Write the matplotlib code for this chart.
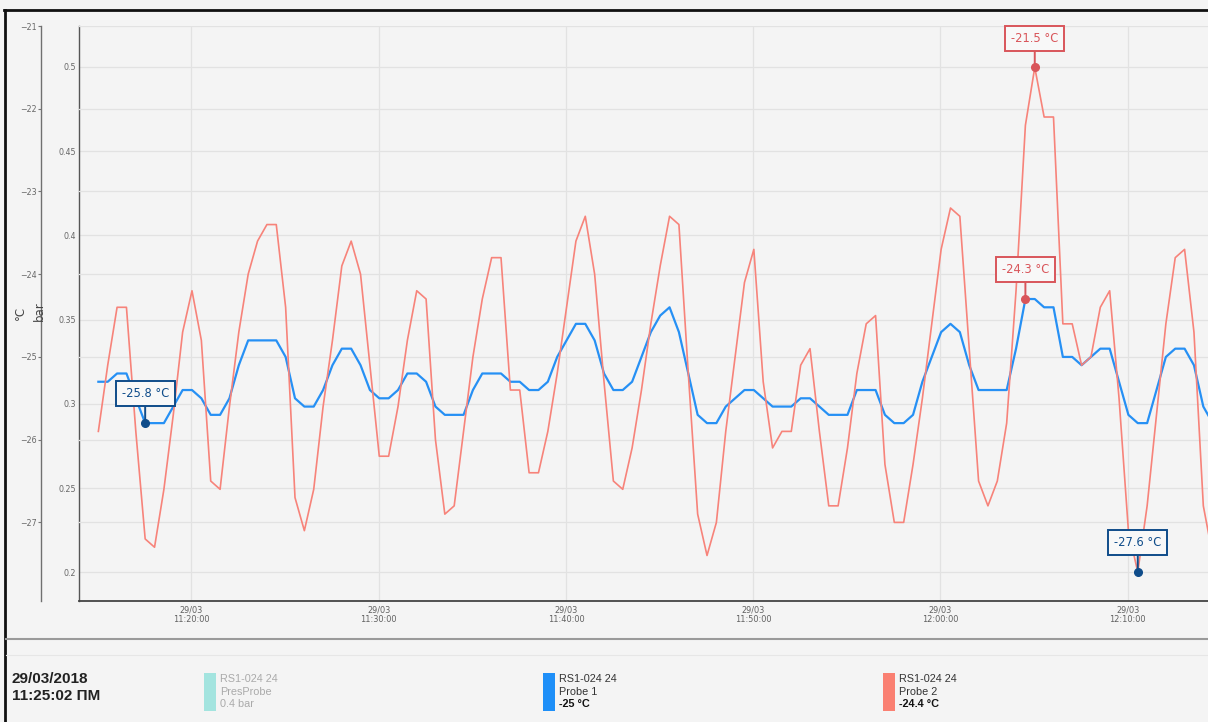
import matplotlib
matplotlib.use("Agg")
import matplotlib.pyplot as plt
import matplotlib.dates as mdates
from matplotlib.lines import Line2D
from matplotlib.patches import Rectangle
import pandas as pd

# ---------------- data ----------------
start_time = "2018-03-29 11:15:02"
sample_step = "30s"

probe1 = [-25.3, -25.3, -25.2, -25.2, -25.5, -25.8, -25.8, -25.8, -25.6, -25.4,
          -25.4, -25.5, -25.7, -25.7, -25.5, -25.1, -24.8, -24.8, -24.8, -24.8,
          -25.0, -25.5, -25.6, -25.6, -25.4, -25.1, -24.9, -24.9, -25.1, -25.4,
          -25.5, -25.5, -25.4, -25.2, -25.2, -25.3, -25.6, -25.7, -25.7, -25.7,
          -25.4, -25.2, -25.2, -25.2, -25.3, -25.3, -25.4, -25.4, -25.3, -25.0,
          -24.8, -24.6, -24.6, -24.8, -25.2, -25.4, -25.4, -25.3, -25.0, -24.7,
          -24.5, -24.4, -24.7, -25.2, -25.7, -25.8, -25.8, -25.6, -25.5, -25.4,
          -25.4, -25.5, -25.6, -25.6, -25.6, -25.5, -25.5, -25.6, -25.7, -25.7,
          -25.7, -25.4, -25.4, -25.4, -25.7, -25.8, -25.8, -25.7, -25.3, -25.0,
          -24.7, -24.6, -24.7, -25.1, -25.4, -25.4, -25.4, -25.4, -24.9, -24.3,
          -24.3, -24.4, -24.4, -25.0, -25.0, -25.1, -25.0, -24.9, -24.9, -25.3,
          -25.7, -25.8, -25.8, -25.4, -25.0, -24.9, -24.9, -25.1, -25.6, -25.8]

probe2 = [-25.9, -25.1, -24.4, -24.4, -25.9, -27.2, -27.3, -26.6, -25.7, -24.7,
          -24.2, -24.8, -26.5, -26.6, -25.6, -24.7, -24.0, -23.6, -23.4, -23.4,
          -24.4, -26.7, -27.1, -26.6, -25.6, -24.8, -23.9, -23.6, -24.0, -25.1,
          -26.2, -26.2, -25.6, -24.8, -24.2, -24.3, -26.0, -26.9, -26.8, -25.9,
          -25.0, -24.3, -23.8, -23.8, -25.4, -25.4, -26.4, -26.4, -25.9, -25.2,
          -24.4, -23.6, -23.3, -24.0, -25.3, -26.5, -26.6, -26.1, -25.4, -24.6,
          -23.9, -23.3, -23.4, -25.2, -26.9, -27.4, -27.0, -25.9, -25.0, -24.1,
          -23.7, -25.3, -26.1, -25.9, -25.9, -25.1, -24.9, -25.9, -26.8, -26.8,
          -26.1, -25.2, -24.6, -24.5, -26.3, -27.0, -27.0, -26.3, -25.5, -24.6,
          -23.7, -23.2, -23.3, -24.9, -26.5, -26.8, -26.5, -25.8, -24.2, -22.2,
          -21.5, -22.1, -22.1, -24.6, -24.6, -25.1, -25.0, -24.4, -24.2, -25.5,
          -27.1, -27.6, -26.8, -25.7, -24.6, -23.8, -23.7, -24.7, -26.8, -27.4]

times = pd.date_range(start_time, periods=len(probe1), freq=sample_step)

temp_ticks = [-27, -26, -25, -24, -23, -22, -21]
temp_range = (-27.95, -21.0)
bar_ticks = [0.2, 0.25, 0.3, 0.35, 0.4, 0.45, 0.5]
bar_tick_labels = ["0.2", "0.25", "0.3", "0.35", "0.4", "0.45", "0.5"]
bar_range = (0.183, 0.5242)
x_ticks = pd.date_range("2018-03-29 11:20:00", "2018-03-29 12:10:00", freq="10min")
x_range = (pd.Timestamp("2018-03-29 11:14:00"), pd.Timestamp("2018-03-29 12:14:17"))

# (series, index, label, kind)
annotations = [("probe1", 5, "-25.8 °C", "min"),
               ("probe1", 99, "-24.3 °C", "max"),
               ("probe2", 100, "-21.5 °C", "max"),
               ("probe2", 111, "-27.6 °C", "min")]

footer_date = "29/03/2018"
footer_time = "11:25:02 ПМ"
legend_devices = ["RS1-024 24", "RS1-024 24", "RS1-024 24"]
legend_probes = ["PresProbe", "Probe 1", "Probe 2"]
legend_values = ["0.4 bar", "-25 °C", "-24.4 °C"]
legend_colors = ["#a3e4df", "#1e8ff8", "#fa8072"]
legend_active = [False, True, True]

# ---------------- style ----------------
W, H, DPI = 1208, 722, 100
BG = "#f4f4f4"
BLUE = "#2690f4"
RED = "#f7837a"
MAX_C = "#d9555a"
MIN_C = "#0f4c8a"
GRID = "#e2e2e2"


def fx(x):
    return x / W


def fy(y):
    return 1 - y / H


fig = plt.figure(figsize=(W / DPI, H / DPI), dpi=DPI, facecolor=BG)

left, right, top, bottom = 79, 1208, 26, 601
ax = fig.add_axes([fx(left), fy(bottom), (right - left) / W, (bottom - top) / H])
ax2 = ax.twinx()

ax.set_zorder(2)
ax2.set_zorder(1)
ax.patch.set_visible(False)
ax2.patch.set_visible(False)

series = {"probe1": probe1, "probe2": probe2}
ax.plot(times, probe1, color=BLUE, lw=1.6, solid_joinstyle="round", zorder=3)
ax.plot(times, probe2, color=RED, lw=1.2, solid_joinstyle="round", zorder=4)

ax.set_xlim(*x_range)
ax.set_ylim(*temp_range)
ax2.set_ylim(*bar_range)

# temperature axis (outer)
ax.set_yticks(temp_ticks)
ax.spines["left"].set_position(("axes", -38 / (right - left)))
ax.spines["left"].set_color("#707070")
ax.spines["left"].set_linewidth(1.0)
ax.spines["left"].set_bounds(temp_range[0], temp_range[1])
for s in ["top", "right"]:
    ax.spines[s].set_visible(False)
ax.spines["bottom"].set_color("#444444")
ax.spines["bottom"].set_linewidth(1.3)
ax.tick_params(axis="y", which="both", left=True, right=False, labelleft=True,
               labelright=False, direction="out", length=2.2, width=0.8,
               color="#777777", labelsize=5.7, labelcolor="#666666", pad=0.8)

# bar axis (inner)
ax2.yaxis.tick_left()
ax2.spines["left"].set_position(("axes", 0))
ax2.spines["left"].set_visible(True)
ax2.spines["left"].set_color("#555555")
ax2.spines["left"].set_linewidth(1.0)
for s in ["top", "right", "bottom"]:
    ax2.spines[s].set_visible(False)
ax2.set_yticks(bar_ticks)
ax2.set_yticklabels(bar_tick_labels)
ax2.tick_params(axis="y", which="both", left=True, right=False, labelleft=True,
                labelright=False, length=0, labelsize=5.7, labelcolor="#666666",
                pad=2.5)

# x axis
ax.set_xticks(x_ticks)
ax.xaxis.set_major_formatter(mdates.DateFormatter("%d/%m\n%H:%M:%S"))
ax.tick_params(axis="x", length=0, labelsize=5.9, labelcolor="#606060", pad=3)
for lbl in ax.get_xticklabels():
    lbl.set_linespacing(1.15)

# grids
ax.grid(True, which="major", axis="both", color=GRID, lw=0.9)
ax.set_axisbelow(True)
ax2.grid(True, which="major", axis="y", color=GRID, lw=0.9)

# axis titles
fig.text(fx(20), fy(313), "°C", rotation=90, ha="center", va="center",
         fontsize=8.5, color="#444444")
fig.text(fx(39), fy(311), "bar", rotation=90, ha="center", va="center",
         fontsize=8.5, color="#444444")

# min/max annotations
for name, idx, label, kind in annotations:
    c = MAX_C if kind == "max" else MIN_C
    xv, yv = times[idx], series[name][idx]
    ax.plot([xv], [yv], "o", color=c, ms=5.5, zorder=6, clip_on=False)
    ax.annotate(label, xy=(xv, yv), xytext=(0, 21), textcoords="offset points",
                ha="center", va="center", fontsize=8.3, color=c, zorder=7,
                annotation_clip=False,
                bbox=dict(boxstyle="square,pad=0.52", fc="#f8f8f8", ec=c, lw=1.4),
                arrowprops=dict(arrowstyle="-", color=c, lw=1.4,
                                shrinkA=0, shrinkB=0))

# frame
fig.add_artist(Line2D([fx(5), fx(5)], [fy(10), fy(722)], color="#111111", lw=2.0,
                      transform=fig.transFigure))
fig.add_artist(Line2D([fx(4), fx(1208)], [fy(10), fy(10)], color="#111111", lw=2.0,
                      transform=fig.transFigure))

# footer separators
fig.add_artist(Line2D([fx(6), fx(1208)], [fy(639), fy(639)], color="#9a9a9a", lw=1.5,
                      transform=fig.transFigure))
fig.add_artist(Line2D([fx(6), fx(1208)], [fy(655), fy(655)], color="#e6e6e6", lw=0.8,
                      transform=fig.transFigure))

# footer date
fig.text(fx(12), fy(679), footer_date, ha="left", va="center", fontsize=11,
         fontweight="bold", family="Liberation Sans", color="#222222")
fig.text(fx(12), fy(696), footer_time, ha="left", va="center", fontsize=11,
         fontweight="bold", family="Liberation Sans", color="#222222")

# footer legend
legend_x = [204, 543, 883]
for x0, dev, probe, val, col, active in zip(legend_x, legend_devices, legend_probes,
                                              legend_values, legend_colors, legend_active):
    fig.add_artist(Rectangle((fx(x0), fy(711)), 12 / W, 38 / H, color=col,
                             transform=fig.transFigure, lw=0))
    tc = "#333333" if active else "#aaaaaa"
    fig.text(fx(x0 + 16), fy(679), dev, ha="left", va="center", fontsize=7.8,
             family="Liberation Sans", color=tc)
    fig.text(fx(x0 + 16), fy(692), probe, ha="left", va="center", fontsize=7.8,
             family="Liberation Sans", color=tc)
    fig.text(fx(x0 + 16), fy(704), val, ha="left", va="center", fontsize=7.8,
             family="Liberation Sans", color="#111111" if active else "#aaaaaa",
             fontweight="bold" if active else "normal")

fig.savefig("out.png", dpi=DPI, facecolor=BG)
